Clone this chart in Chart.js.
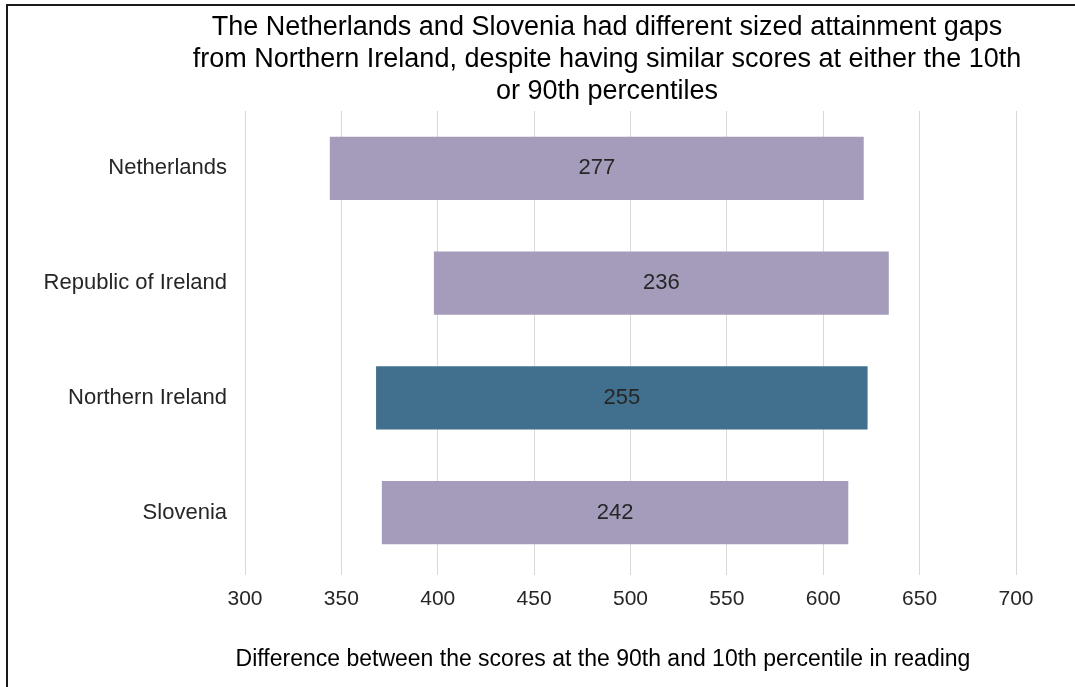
<!DOCTYPE html>
<html>
<head>
<meta charset="utf-8">
<style>
  html, body { margin: 0; padding: 0; background: #ffffff; }
  #wrap { position: relative; width: 1075px; height: 687px; }
  canvas { display: block; }
</style>
<script src="https://cdn.jsdelivr.net/npm/chart.js@4"></script>
</head>
<body>
<div id="wrap"><canvas id="chart" width="1075" height="687"></canvas></div>
<script>
// Reading scores at the 10th and 90th percentiles
const countries = ['Netherlands', 'Republic of Ireland', 'Northern Ireland', 'Slovenia'];
const p10Scores = [344, 398, 368, 371];
const p90Scores = [621, 634, 623, 613];
const xTicks = [300, 350, 400, 450, 500, 550, 600, 650, 700];
const titleLines = [
  'The Netherlands and Slovenia had different sized attainment gaps',
  'from Northern Ireland, despite having similar scores at either the 10th',
  'or 90th percentiles'
];
const xAxisTitle = 'Difference between the scores at the 90th and 10th percentile in reading';

const PURPLE = '#a59cbb';
const TEAL = '#41708f';
const FONT = '"Liberation Sans", Arial, sans-serif';

const ranges = countries.map((c, i) => [p10Scores[i], p90Scores[i]]);
const colours = countries.map(c => c === 'Northern Ireland' ? TEAL : PURPLE);

// Frame, titles and the gap label in the middle of each bar
const decorations = {
  id: 'decorations',
  beforeDraw(chart) {
    const ctx = chart.ctx;
    ctx.save();
    ctx.fillStyle = '#ffffff';
    ctx.fillRect(0, 0, chart.width, chart.height);
    ctx.restore();
  },
  afterDraw(chart) {
    const ctx = chart.ctx;
    ctx.save();
    // outer frame
    ctx.strokeStyle = '#1a1a1a';
    ctx.lineWidth = 2;
    ctx.beginPath();
    ctx.moveTo(7, chart.height + 5);
    ctx.lineTo(7, 5);
    ctx.lineTo(chart.width + 5, 5);
    ctx.stroke();

    // chart title
    ctx.fillStyle = '#000000';
    ctx.font = '27px ' + FONT;
    ctx.textAlign = 'center';
    ctx.textBaseline = 'middle';
    titleLines.forEach((line, i) => ctx.fillText(line, 607, 28 + i * 32));

    // axis title
    ctx.fillStyle = '#000000';
    ctx.font = '23px ' + FONT;
    ctx.fillText(xAxisTitle, 603, 660);

    // gap labels
    const meta = chart.getDatasetMeta(0);
    ctx.fillStyle = '#262626';
    ctx.font = '22px ' + FONT;
    meta.data.forEach((bar, i) => {
      const gap = p90Scores[i] - p10Scores[i];
      ctx.fillText(String(gap), (bar.x + bar.base) / 2, bar.y);
    });
    ctx.restore();
  }
};

new Chart(document.getElementById('chart'), {
  type: 'bar',
  data: {
    labels: countries,
    datasets: [{
      data: ranges,
      backgroundColor: colours,
      borderWidth: 0,
      barPercentage: 0.55,
      categoryPercentage: 1.0
    }]
  },
  options: {
    indexAxis: 'y',
    responsive: false,
    animation: false,
    devicePixelRatio: 1,
    layout: { padding: { left: 0, right: 59, top: 111, bottom: 0 } },
    plugins: {
      legend: { display: false },
      tooltip: { enabled: false },
      title: { display: false }
    },
    scales: {
      x: {
        type: 'linear',
        min: xTicks[0],
        max: xTicks[xTicks.length - 1],
        afterBuildTicks(scale) { scale.ticks = xTicks.map(v => ({ value: v })); },
        afterFit(scale) { scale.height = 117; },
        grid: { color: '#d9d9d9', lineWidth: 1, tickLength: 5, drawTicks: true },
        border: { display: false },
        ticks: {
          padding: 12,
          color: '#262626',
          font: { family: FONT, size: 21 }
        }
      },
      y: {
        afterFit(scale) { scale.width = 245; },
        grid: { display: false, drawTicks: false },
        border: { display: false },
        ticks: {
          padding: 18,
          color: '#262626',
          font: { family: FONT, size: 22 }
        }
      }
    }
  },
  plugins: [decorations]
});
</script>
</body>
</html>
